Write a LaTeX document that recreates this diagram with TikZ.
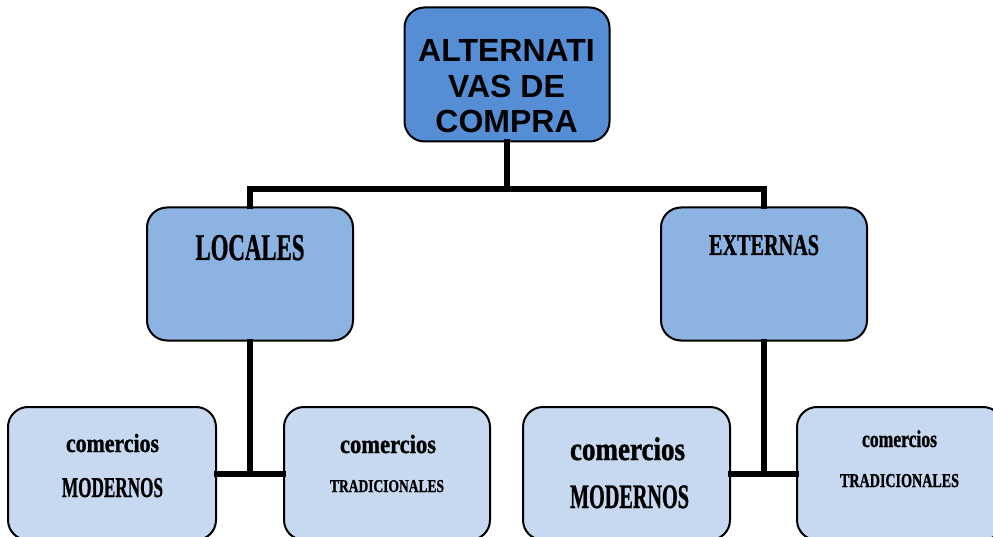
\documentclass[tikz,border=0pt]{standalone}
\usepackage{fontspec}
\usepackage{graphicx}
\newfontfamily\headfont{Liberation Sans}
\newfontfamily\labfont{Liberation Serif Bold}[FakeBold=1.2]
% condensed heavy serif line: #1 width (pt), #2 font size (pt), #3 text
\newcommand\condline[3]{\resizebox{#1pt}{\height}{\fontsize{#2}{#2}\selectfont\labfont #3}}
\definecolor{lvlone}{RGB}{85,142,213}
\definecolor{lvltwo}{RGB}{141,179,226}
\definecolor{lvlthree}{RGB}{198,217,241}
\begin{document}
\begin{tikzpicture}[x=1pt,y=-1pt,
  box/.style={draw=black, line width=2pt, rounded corners=20pt, rectangle,
    inner sep=0pt, minimum width=206pt, minimum height=133pt},
  conn/.style={draw=black, line width=6pt, line cap=rect, line join=miter},
  txt/.style={inner sep=0pt, anchor=base}]
\useasboundingbox (0,0) rectangle (993,537);
\clip (0,0) rectangle (993,537);
\fill[white] (0,0) rectangle (993,537);

% boxes
\node[box, fill=lvlone, minimum width=205pt, minimum height=134pt] (top) at (507,74.5) {};
\node[box, fill=lvltwo] (loc) at (250,274) {};
\node[box, fill=lvltwo] (ext) at (764,274) {};
\node[box, fill=lvlthree, minimum width=208pt] (b1) at (112,473.5) {};
\node[box, fill=lvlthree] (b2) at (387,473.5) {};
\node[box, fill=lvlthree, minimum width=207pt] (b3) at (626.5,473.5) {};
\node[box, fill=lvlthree] (b4) at (900,473.5) {};

% connectors
\coordinate (j) at (507,189);
\draw[conn] (top.south) -- (top.south |- j);
\draw[conn] (loc.north) -- (loc.north |- j) -- (ext.north |- j) -- (ext.north);
\draw[conn] (loc.south) -- (loc.south |- b1.east);
\draw[conn] (b1.east) -- (b2.west);
\draw[conn] (ext.south) -- (ext.south |- b3.east);
\draw[conn] (b3.east) -- (b4.west);

% texts
\node[inner sep=0pt, align=center, font=\headfont\bfseries\fontsize{32}{35.5}\selectfont] (ttl) at (506.5,86.5) {ALTERNATI\\VAS DE\\COMPRA};
\node[txt] (tloc) at (250,260) {\condline{109}{37.8}{LOCALES}};
\node[txt] (text) at (764,255) {\condline{110}{30.2}{EXTERNAS}};
\node[txt] (t1a) at (112.5,452) {\condline{93}{26.3}{comercios}};
\node[txt] (t1b) at (112.5,497) {\condline{101}{28.7}{MODERNOS}};
\node[txt] (t2a) at (388,453) {\condline{96}{26.3}{comercios}};
\node[txt] (t2b) at (387,492) {\condline{114}{18.1}{TRADICIONALES}};
\node[txt] (t3a) at (627.5,460) {\condline{115}{32.8}{comercios}};
\node[txt] (t3b) at (629.5,508) {\condline{119}{34.3}{MODERNOS}};
\node[txt] (t4a) at (899.5,447) {\condline{75}{24}{comercios}};
\node[txt] (t4b) at (899.5,487) {\condline{119}{19.6}{TRADICIONALES}};
\end{tikzpicture}
\end{document}
